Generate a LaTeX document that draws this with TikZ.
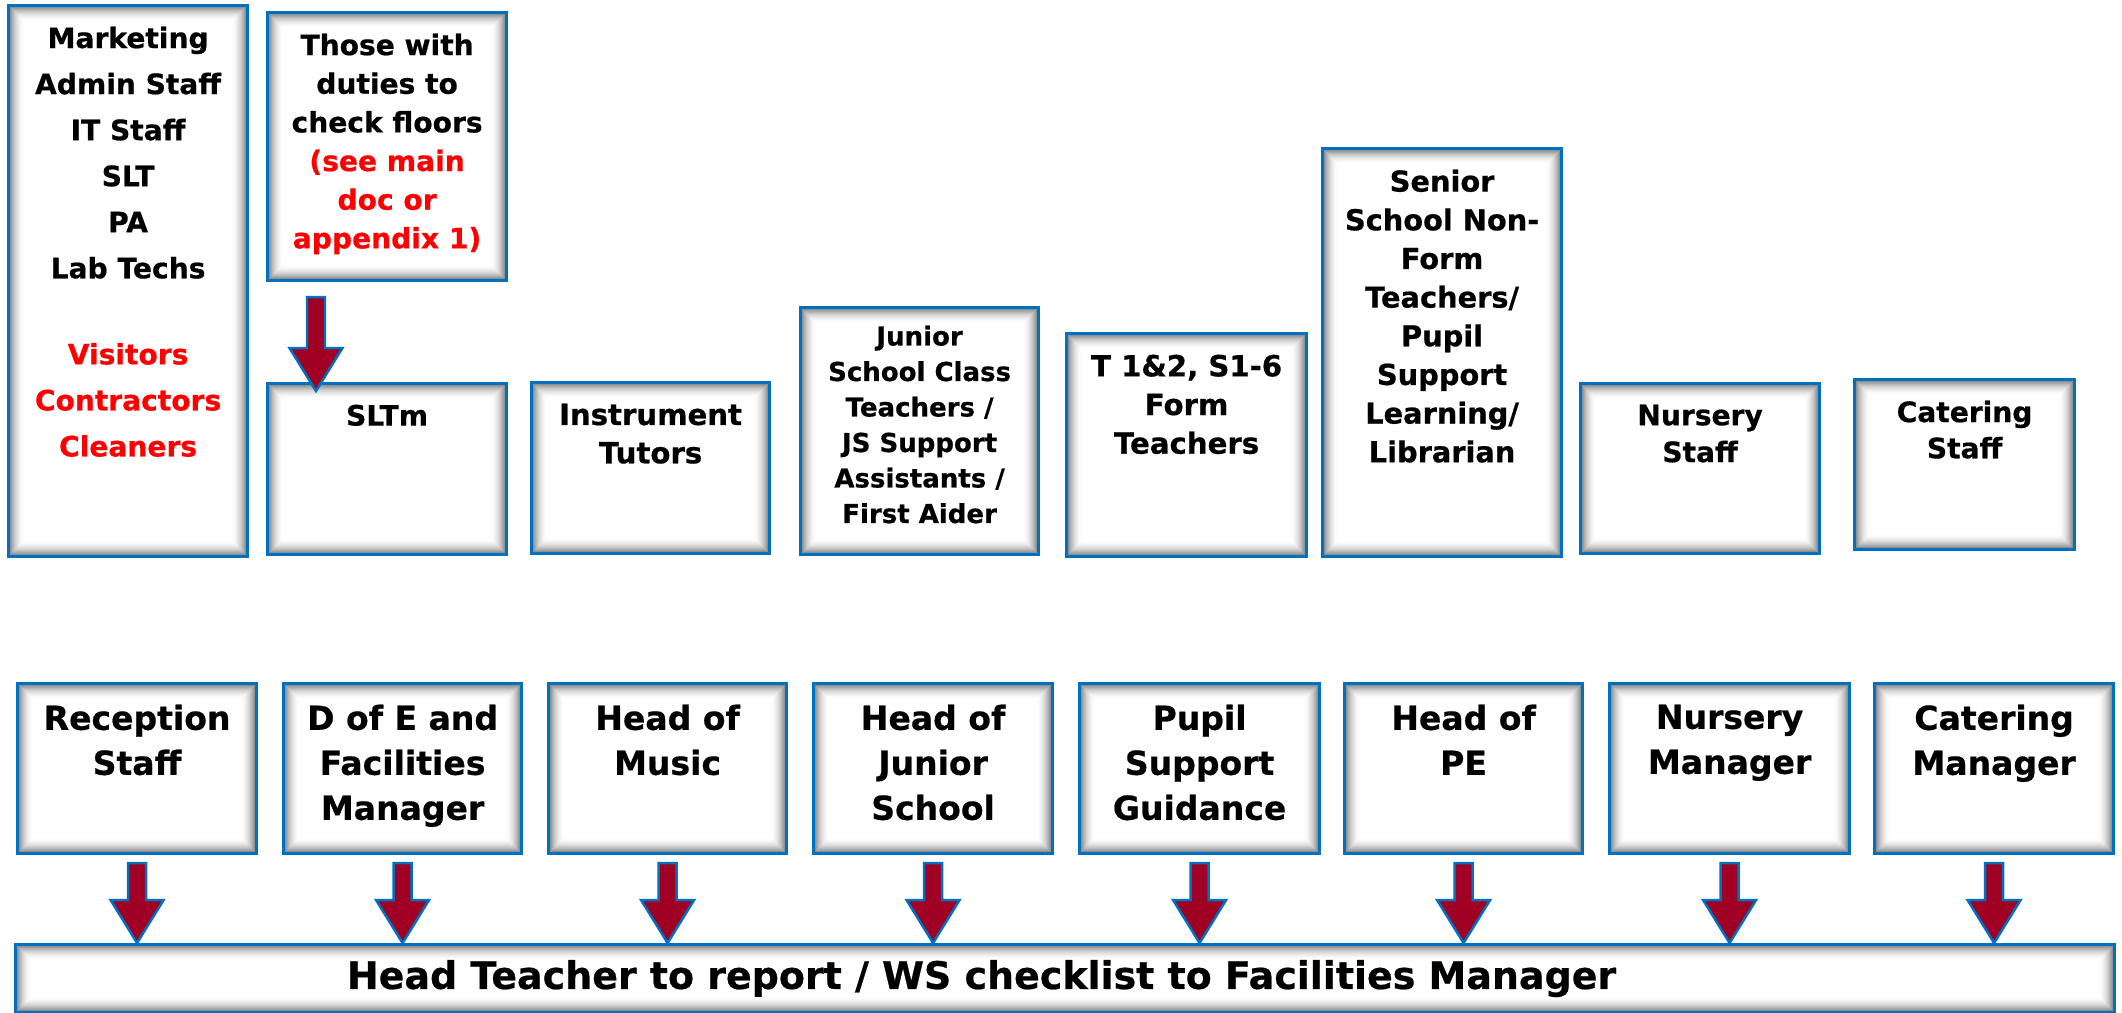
\documentclass[tikz,border=0pt]{standalone}
\usepackage{fontspec}
\setmainfont{DejaVu Sans}[BoldFeatures={FakeBold=0.6}]
\usetikzlibrary{calc}

\definecolor{boxblue}{RGB}{0,112,192}
\definecolor{arrowred}{RGB}{160,0,35}

% block arrow between the coordinates (s) and (e)
\newcommand\blockarrowpath{($(s)+(-.09,0)$) -- ($(s)+(.09,0)$) -- ($(e)+(.09,.43)$) -- ($(e)+(.265,.43)$) -- (e) -- ($(e)+(-.265,.43)$) -- ($(e)+(-.09,.43)$) -- cycle}

\tikzset{
  box/.style={draw=boxblue, line width=0.9pt, fill=white, anchor=north west, inner sep=0pt,
    path picture={
      \foreach \k in {0,...,15}{
        \pgfmathsetmacro\shd{56*(1-\k/16)^1.9}
        \draw[black!\shd, line width=0.012cm]
          ([shift={(\k*0.01,\k*0.01)}]path picture bounding box.south west)
          rectangle ([shift={(-\k*0.01,-\k*0.01)}]path picture bounding box.north east);
      }
    }},
  toptxt/.style={anchor=north, align=center, inner sep=0pt, yshift=-0.22cm, font=\fontsize{8}{11}\selectfont\bfseries},
  bottxt/.style={anchor=north, align=center, inner sep=0pt, yshift=-0.22cm, font=\fontsize{9.4}{12.8}\selectfont\bfseries},
  blockarrow/.style={fill=arrowred, draw=boxblue, line width=0.7pt, line join=miter},
}

\begin{document}
\begin{tikzpicture}
\useasboundingbox (0,0) rectangle (21.22,-10.12);

% staff groups
\node[box, minimum width=2.39cm, minimum height=5.51cm,
  label={[toptxt, font=\fontsize{8}{13.1}\selectfont\bfseries]north:{Marketing\\Admin Staff\\IT Staff\\SLT\\PA\\Lab Techs\\[11.4pt]\textcolor{red}{Visitors}\\\textcolor{red}{Contractors}\\\textcolor{red}{Cleaners}}}]
  (staff) at (0.07,-0.04) {};
\node[box, minimum width=2.39cm, minimum height=2.68cm,
  label={[toptxt]north:{Those with\\duties to\\check floors\\\textcolor{red}{(see main}\\\textcolor{red}{doc or}\\\textcolor{red}{appendix 1)}}}]
  (floors) at (2.66,-0.11) {};
\node[box, minimum width=2.39cm, minimum height=1.71cm, label={[toptxt]north:SLTm}] (sltm) at (2.66,-3.82) {};
\node[box, minimum width=2.38cm, minimum height=1.71cm,
  label={[toptxt, font=\fontsize{8.3}{10.9}\selectfont\bfseries]north:{Instrument\\Tutors}}] (tutors) at (5.30,-3.81) {};
\node[box, minimum width=2.38cm, minimum height=2.47cm,
  label={[toptxt, yshift=0.03cm, font=\fontsize{7.4}{10.1}\selectfont\bfseries]north:{Junior\\School Class\\Teachers /\\JS Support\\Assistants /\\First Aider}}]
  (jsclass) at (7.99,-3.06) {};
\node[box, minimum width=2.40cm, minimum height=2.23cm,
  label={[toptxt, font=\fontsize{8.3}{11}\selectfont\bfseries]north:{T 1\&2, S1-6\\Form\\Teachers}}] (form) at (10.65,-3.32) {};
\node[box, minimum width=2.39cm, minimum height=4.08cm,
  label={[toptxt, font=\fontsize{8.2}{11}\selectfont\bfseries]north:{Senior\\School Non-\\Form\\Teachers/\\Pupil\\Support\\Learning/\\Librarian}}]
  (senior) at (13.21,-1.47) {};
\node[box, minimum width=2.39cm, minimum height=1.70cm,
  label={[toptxt, font=\fontsize{8}{10.5}\selectfont\bfseries]north:{Nursery\\Staff}}] (nurstaff) at (15.79,-3.82) {};
\node[box, minimum width=2.20cm, minimum height=1.70cm,
  label={[toptxt, font=\fontsize{8}{10.3}\selectfont\bfseries]north:{Catering\\Staff}}] (catstaff) at (18.53,-3.78) {};

% heads
\node[box, minimum width=2.39cm, minimum height=1.70cm, label={[bottxt]north:{Reception\\Staff}}] (recep) at (0.16,-6.82) {};
\node[box, minimum width=2.38cm, minimum height=1.70cm, label={[bottxt]north:{D of E and\\Facilities\\Manager}}] (dofe) at (2.82,-6.82) {};
\node[box, minimum width=2.38cm, minimum height=1.70cm, label={[bottxt]north:{Head of\\Music}}] (music) at (5.47,-6.82) {};
\node[box, minimum width=2.39cm, minimum height=1.70cm, label={[bottxt]north:{Head of\\Junior\\School}}] (headjs) at (8.12,-6.82) {};
\node[box, minimum width=2.40cm, minimum height=1.70cm, label={[bottxt]north:{Pupil\\Support\\Guidance}}] (pupil) at (10.78,-6.82) {};
\node[box, minimum width=2.38cm, minimum height=1.70cm, label={[bottxt]north:{Head of\\PE}}] (headpe) at (13.43,-6.82) {};
\node[box, minimum width=2.40cm, minimum height=1.70cm, label={[bottxt]north:{Nursery\\Manager}}] (nursmgr) at (16.08,-6.82) {};
\node[box, minimum width=2.39cm, minimum height=1.70cm, label={[bottxt]north:{Catering\\Manager}}] (catmgr) at (18.73,-6.82) {};

\node[box, minimum width=20.99cm, minimum height=0.68cm,
  label={[anchor=base, inner sep=0pt, xshift=-0.835cm, yshift=0cm, font=\fontsize{10.8}{13}\selectfont\bfseries]center:Head Teacher to report / WS checklist to Facilities Manager}]
  (report) at (0.14,-9.43) {};

% arrows
\path ($(floors.south west)+(0.50,-0.15)$) coordinate (s) ($(s |- sltm.north)+(0,-0.09)$) coordinate (e);
\draw[blockarrow] \blockarrowpath;
\foreach \n in {recep,dofe,music,headjs,pupil,headpe,nursmgr,catmgr}{
  \path ($(\n.south)+(0,-0.08)$) coordinate (s) (s |- report.north) coordinate (e);
  \draw[blockarrow] \blockarrowpath;
}
\end{tikzpicture}
\end{document}
